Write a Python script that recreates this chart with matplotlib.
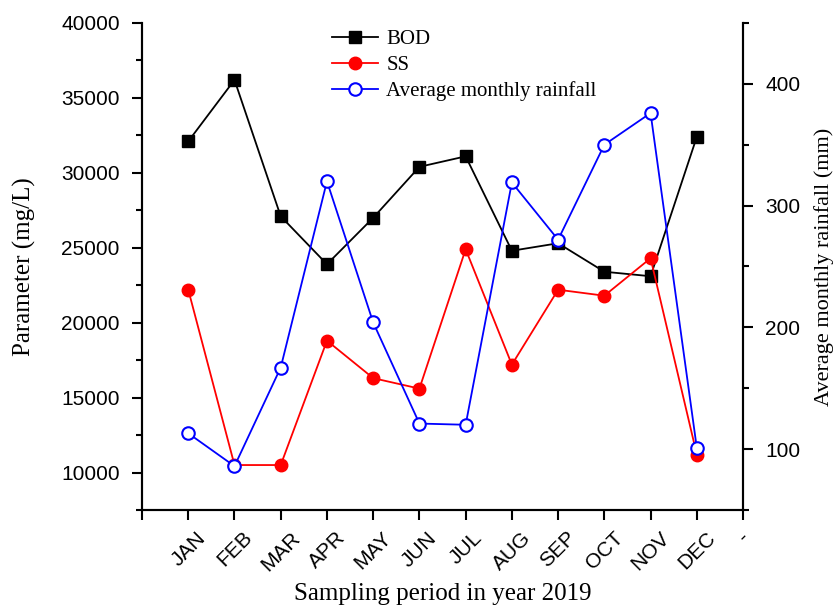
import matplotlib.pyplot as plt
from matplotlib.ticker import MultipleLocator

months = ['JAN', 'FEB', 'MAR', 'APR', 'MAY', 'JUN', 'JUL', 'AUG', 'SEP', 'OCT', 'NOV', 'DEC']
bod = [32100, 36200, 27100, 23900, 27000, 30400, 31100, 24800, 25300, 23400, 23100, 32400]
ss = [22200, 10500, 10500, 18800, 16300, 15600, 24900, 17200, 22200, 21800, 24300, 11200]
rainfall = [113, 86, 167, 320, 204, 121, 120, 319, 272, 350, 376, 101]

serif = 'Liberation Serif'
sans = 'Liberation Sans'

fig = plt.figure(figsize=(8.33, 6.11), dpi=100)
ax = fig.add_axes([0.1705, 0.1653, 0.7215, 0.7971])
ax2 = ax.twinx()

x = list(range(1, len(months) + 1))
l1, = ax.plot(x, bod, color='black', marker='s', markersize=8, lw=1.3, label='BOD')
l2, = ax.plot(x, ss, color='red', marker='o', markersize=9, lw=1.3, label='SS')
l3, = ax2.plot(x, rainfall, color='blue', marker='o', markersize=9, lw=1.3,
               markerfacecolor='white', markeredgewidth=1.5, label='Average monthly rainfall')

ax.set_xlim(0, 13)
ax.set_ylim(7500, 40000)
ax2.set_ylim(50, 450)

ax.set_xticks(list(range(0, 14)))
ax.set_xticklabels([''] + months + ['-'], rotation=45, fontsize=15, fontfamily=sans)
ax.yaxis.set_major_locator(MultipleLocator(5000))
ax.yaxis.set_minor_locator(MultipleLocator(2500))
ax2.yaxis.set_major_locator(MultipleLocator(100))
ax2.yaxis.set_minor_locator(MultipleLocator(50))

for a in (ax, ax2):
    for s in a.spines.values():
        s.set_linewidth(1.5)
    a.tick_params(which='major', length=7, width=1.5, labelsize=15, direction='out', pad=9)
    a.tick_params(which='minor', length=4, width=1.5, direction='out')
    for lab in a.get_yticklabels():
        lab.set_fontfamily(sans)
ax.tick_params(axis='x', pad=6)
ax.spines['top'].set_visible(False)
ax2.spines['top'].set_visible(False)

ax.set_xlabel('Sampling period in year 2019', fontsize=18, fontfamily=serif, labelpad=6)
ax.set_ylabel('Parameter (mg/L)', fontsize=18, fontfamily=serif, labelpad=18)
ax2.set_ylabel('Average monthly rainfall (mm)', fontsize=16, fontfamily=serif, labelpad=10)

ax.legend(handles=[l1, l2, l3], loc='upper left', bbox_to_anchor=(0.285, 1.025), frameon=False,
          prop={'family': serif, 'size': 15}, handlelength=2.2, handletextpad=0.4,
          labelspacing=0.3)

fig.savefig('out.png', dpi=100)
